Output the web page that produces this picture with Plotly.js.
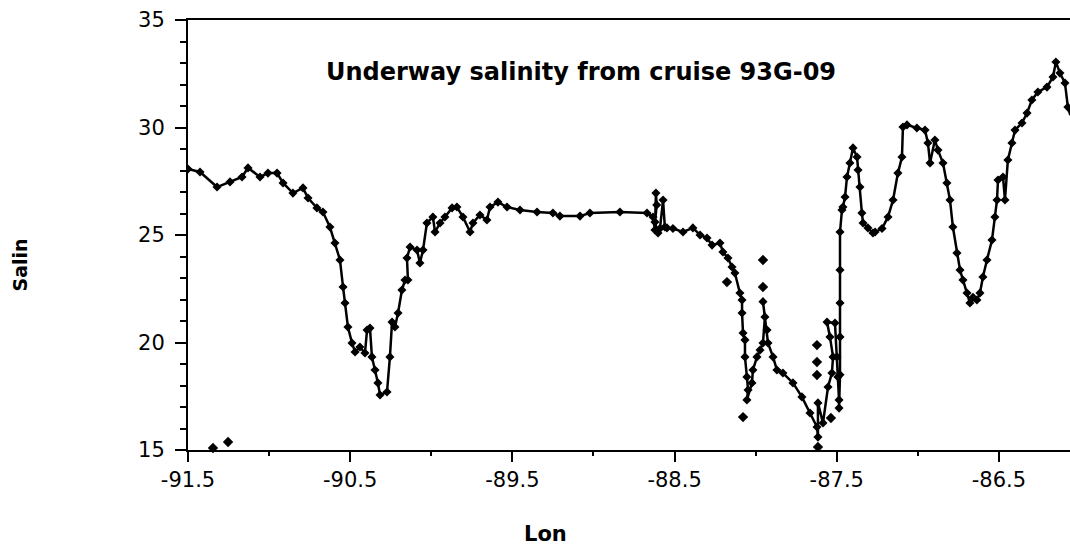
<!DOCTYPE html>
<html>
<head>
<meta charset="utf-8">
<script src="https://cdn.plot.ly/plotly-3.0.1.min.js"></script>
<style>
html,body{margin:0;padding:0;background:#fff;}
#chart{width:1070px;height:549px;}
</style>
</head>
<body>
<div id="chart"></div>
<script>
// Underway salinity along the cruise track (connected series)
const lon = [
 -91.500,-91.426,-91.321,-91.241,-91.167,-91.130,-91.056,-91.007,-90.951,-90.914,
 -90.853,-90.791,-90.760,-90.705,-90.668,-90.625,-90.594,-90.563,-90.544,-90.532,
 -90.514,-90.489,-90.470,-90.440,-90.409,-90.396,-90.378,-90.366,-90.347,-90.329,
 -90.316,-90.273,-90.255,-90.242,-90.224,-90.205,-90.181,-90.162,-90.144,-90.150,
 -90.131,-90.088,-90.070,-90.051,-90.027,-89.990,-89.977,-89.946,-89.916,-89.872,
 -89.842,-89.805,-89.761,-89.743,-89.700,-89.657,-89.638,-89.589,-89.533,-89.453,
 -89.348,-89.250,-89.207,-89.083,-89.022,-88.837,-88.670,-88.633,-88.621,-88.615,
 -88.610,-88.621,-88.602,-88.590,-88.571,-88.560,-88.547,-88.510,-88.448,-88.387,
 -88.343,-88.300,-88.269,-88.220,-88.202,-88.171,-88.146,-88.128,-88.097,-88.084,
 -88.084,-88.078,-88.066,-88.066,-88.054,-88.047,-88.054,-88.023,-88.017,-87.992,
 -87.973,-87.955,-87.943,-87.955,-87.930,-87.924,-87.893,-87.869,-87.832,-87.770,
 -87.715,-87.665,-87.622,-87.616,-87.616,-87.585,-87.554,-87.530,-87.523,-87.542,
 -87.560,-87.511,-87.499,-87.493,-87.486,-87.486,-87.480,-87.480,-87.480,-87.480,
 -87.480,-87.468,-87.462,-87.449,-87.437,-87.419,-87.400,-87.375,-87.369,-87.357,
 -87.345,-87.338,-87.308,-87.277,-87.264,-87.221,-87.184,-87.153,-87.123,-87.098,
 -87.092,-87.067,-87.006,-86.956,-86.938,-86.925,-86.895,-86.876,-86.845,-86.821,
 -86.802,-86.784,-86.759,-86.740,-86.722,-86.697,-86.679,-86.660,-86.636,-86.617,
 -86.599,-86.574,-86.543,-86.525,-86.512,-86.506,-86.475,-86.463,-86.445,-86.420,
 -86.401,-86.358,-86.327,-86.297,-86.260,-86.204,-86.167,-86.149,-86.124,-86.093,
 -86.075,-86.060
];
const salin = [
 28.07,27.93,27.23,27.47,27.70,28.12,27.70,27.88,27.88,27.42,
 26.95,27.19,26.72,26.26,26.07,25.37,24.63,23.84,22.58,21.84,
 20.72,19.98,19.56,19.79,19.51,20.58,20.67,19.33,18.72,18.12,
 17.56,17.70,19.33,20.95,20.72,21.37,22.44,22.91,22.91,23.93,
 24.44,24.30,23.70,24.30,25.56,25.84,25.14,25.56,25.84,26.26,
 26.30,25.84,25.14,25.56,25.93,25.70,26.30,26.53,26.30,26.16,
 26.07,26.02,25.88,25.88,26.02,26.07,26.02,25.84,25.23,26.95,
 26.40,25.60,25.09,25.30,26.63,25.37,25.33,25.30,25.14,25.33,
 25.00,24.86,24.53,24.63,24.21,23.93,23.51,23.23,22.30,21.98,
 21.37,20.44,20.12,19.33,18.40,17.79,17.33,18.12,18.72,19.33,
 19.65,19.98,21.19,21.90,20.58,19.98,19.33,18.72,18.58,18.12,
 17.47,16.72,16.07,15.60,17.19,16.26,17.93,18.58,19.33,20.26,
 20.95,20.91,19.33,18.40,17.33,16.95,18.50,20.26,21.84,23.37,
 25.14,26.16,26.30,26.77,27.70,28.35,29.05,28.63,28.02,27.23,
 26.02,25.56,25.33,25.09,25.14,25.30,25.84,26.63,27.88,28.63,
 30.02,30.12,29.98,29.88,29.28,28.35,29.42,28.95,28.35,27.42,
 26.63,25.37,24.16,23.37,22.91,22.30,21.84,22.10,21.98,22.30,
 23.05,23.84,24.77,25.84,26.63,27.56,27.70,26.63,28.49,29.28,
 29.88,30.21,30.67,31.28,31.65,31.88,32.35,33.05,32.53,32.07,
 30.95,30.58
];
// Scattered readings drawn as separate points
const outLon = [-91.346,-91.253,-88.177,-88.078,-87.955,-87.955,-87.622,-87.622,-87.622,-87.536,-87.616];
const outSal = [15.09,15.37,22.81,16.53,23.84,22.58,19.88,19.09,18.49,16.49,15.14];

const xTicks = [-91.5,-90.5,-89.5,-88.5,-87.5,-86.5];
const yTicks = [15,20,25,30,35];

const tickFont = {family:'DejaVu Sans, sans-serif', size:21, color:'#000'};

const traces = [
 {x:lon, y:salin, type:'scatter', mode:'lines+markers',
  line:{color:'#000', width:2.5},
  marker:{symbol:'diamond', size:7, color:'#000'},
  cliponaxis:true, showlegend:false, name:'Salin'},
 {x:outLon, y:outSal, type:'scatter', mode:'markers',
  marker:{symbol:'diamond', size:8, color:'#000'},
  cliponaxis:false, showlegend:false, name:'Salin'}
];

const layout = {
 width:1070, height:549,
 margin:{l:188, r:0, t:20, b:99},
 paper_bgcolor:'#fff', plot_bgcolor:'#fff',
 title:{text:'<b>Underway salinity from cruise 93G-09</b>',
  font:{family:'DejaVu Sans, sans-serif', size:24, color:'#000'},
  xref:'paper', x:0.4456, xanchor:'center',
  yref:'container', y:0.869, yanchor:'middle'},
 xaxis:{range:[-91.5,-86.062], tickvals:xTicks, ticktext:xTicks.map(v=>v.toFixed(1)),
  showgrid:false, zeroline:false, showline:true, linecolor:'#000', linewidth:2,
  mirror:true, ticks:'outside', ticklen:10, tickwidth:2, tickcolor:'#000',
  minor:{dtick:0.5, tick0:-91.5, ticks:'outside', ticklen:4, tickwidth:2, tickcolor:'#000', showgrid:false},
  tickfont:tickFont, title:{text:''}},
 yaxis:{range:[15,35], tickvals:yTicks, ticklabelstandoff:6,
  showgrid:false, zeroline:false, showline:true, linecolor:'#000', linewidth:2,
  ticks:'outside', ticklen:11, tickwidth:2, tickcolor:'#000',
  minor:{dtick:1, tick0:15, ticks:'outside', ticklen:6, tickwidth:2, tickcolor:'#000', showgrid:false},
  tickfont:tickFont, title:{text:''}},
 annotations:[
  {text:'<b>Salin</b>', xref:'paper', yref:'paper', x:-0.19, y:0.43, textangle:-90,
   showarrow:false, font:{family:'DejaVu Sans, sans-serif', size:19, color:'#000'}, xanchor:'center', yanchor:'middle'},
  {text:'<b>Lon</b>', xref:'paper', yref:'paper', x:0.405, y:-0.195,
   showarrow:false, font:{family:'DejaVu Sans, sans-serif', size:21, color:'#000'}, xanchor:'center', yanchor:'middle'}
 ]
};

Plotly.newPlot('chart', traces, layout, {displayModeBar:false, staticPlot:true});
</script>
</body>
</html>
